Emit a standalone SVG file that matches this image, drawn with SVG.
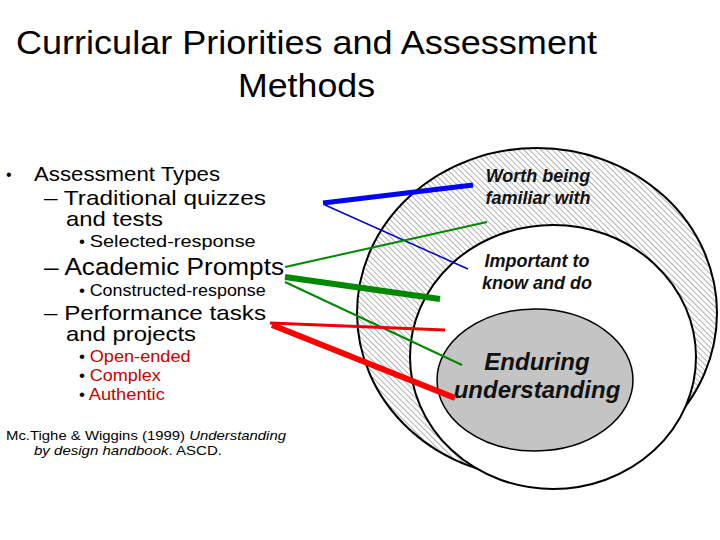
<svg xmlns="http://www.w3.org/2000/svg" width="720" height="540" viewBox="0 0 720 540">
<defs>
<pattern id="hatch" width="4" height="4" patternUnits="userSpaceOnUse" patternTransform="rotate(-45)">
<rect width="4" height="4" fill="#fff"/>
<line x1="0" y1="0" x2="0" y2="4" stroke="#666" stroke-width="1"/>
</pattern>
<style>
text{font-family:"Liberation Sans",Arial,sans-serif;fill:#000}
.ov{font-weight:bold;font-style:italic;fill:#111}
.r{fill:#c00}
</style>
</defs>
<rect width="720" height="540" fill="#fff"/>
<text x="16" y="54" font-size="33" textLength="581" lengthAdjust="spacingAndGlyphs">Curricular Priorities and Assessment</text>
<text x="238" y="97" font-size="33" textLength="137" lengthAdjust="spacingAndGlyphs">Methods</text>
<g id="list">
<text x="6" y="180" font-size="16">•</text>
<text x="34" y="181" font-size="21" textLength="186" lengthAdjust="spacingAndGlyphs">Assessment Types</text>
<text x="44" y="205" font-size="21" textLength="222" lengthAdjust="spacingAndGlyphs">– Traditional quizzes</text>
<text x="66" y="226" font-size="21" textLength="97" lengthAdjust="spacingAndGlyphs">and tests</text>
<text x="79" y="247" font-size="17">• <tspan textLength="166" lengthAdjust="spacingAndGlyphs">Selected-response</tspan></text>
<text x="44" y="275" font-size="23" textLength="240" lengthAdjust="spacingAndGlyphs">– Academic Prompts</text>
<text x="79" y="296" font-size="17">• <tspan textLength="176" lengthAdjust="spacingAndGlyphs">Constructed-response</tspan></text>
<text x="44" y="320" font-size="21" textLength="222" lengthAdjust="spacingAndGlyphs">– Performance tasks</text>
<text x="66" y="341" font-size="21" textLength="130" lengthAdjust="spacingAndGlyphs">and projects</text>
<text x="79" y="362" font-size="17">• <tspan class="r" textLength="101" lengthAdjust="spacingAndGlyphs">Open-ended</tspan></text>
<text x="79" y="381" font-size="17">• <tspan class="r" textLength="71" lengthAdjust="spacingAndGlyphs">Complex</tspan></text>
<text x="79" y="400" font-size="17">• <tspan class="r" textLength="76" lengthAdjust="spacingAndGlyphs">Authentic</tspan></text>
<text x="6" y="440" font-size="13.5" textLength="280" lengthAdjust="spacingAndGlyphs">Mc.Tighe &amp; Wiggins (1999) <tspan font-style="italic">Understanding</tspan></text>
<text x="34" y="455" font-size="13.5" textLength="188" lengthAdjust="spacingAndGlyphs"><tspan font-style="italic">by design handbook</tspan>. ASCD.</text>
</g>
<g id="outer">
<ellipse cx="537" cy="313" rx="180" ry="165" fill="url(#hatch)" stroke="#000" stroke-width="2"/>
<text class="ov" x="538" y="182" font-size="18" text-anchor="middle">Worth being</text>
<text class="ov" x="538" y="204" font-size="18" text-anchor="middle">familiar with</text>
</g>
<g id="middle">
<ellipse cx="553" cy="357" rx="143" ry="132" fill="#fff" stroke="#000" stroke-width="2"/>
<text class="ov" x="537" y="267" font-size="18" text-anchor="middle">Important to</text>
<text class="ov" x="537" y="289" font-size="18" text-anchor="middle">know and do</text>
</g>
<g id="inner">
<ellipse cx="535" cy="380" rx="98" ry="71" fill="#c4c4c4" stroke="#000" stroke-width="1.5"/>
<text class="ov" x="537" y="370" font-size="24" text-anchor="middle">Enduring</text>
<text class="ov" x="537" y="398" font-size="24" text-anchor="middle">understanding</text>
</g>
<g id="connectors" stroke-linecap="butt">
<line x1="323" y1="203" x2="473" y2="185" stroke="#00f" stroke-width="5"/>
<line x1="325" y1="205" x2="468" y2="269" stroke="#00c" stroke-width="1.5"/>
<line x1="285" y1="267" x2="487" y2="222" stroke="#080" stroke-width="2"/>
<line x1="285" y1="277" x2="440" y2="299" stroke="#080" stroke-width="6"/>
<line x1="285" y1="282" x2="462" y2="365" stroke="#080" stroke-width="2"/>
<line x1="270" y1="323" x2="445" y2="330" stroke="#e00" stroke-width="3"/>
<line x1="272" y1="325" x2="455" y2="398" stroke="#f00" stroke-width="6"/>
</g>
</svg>
